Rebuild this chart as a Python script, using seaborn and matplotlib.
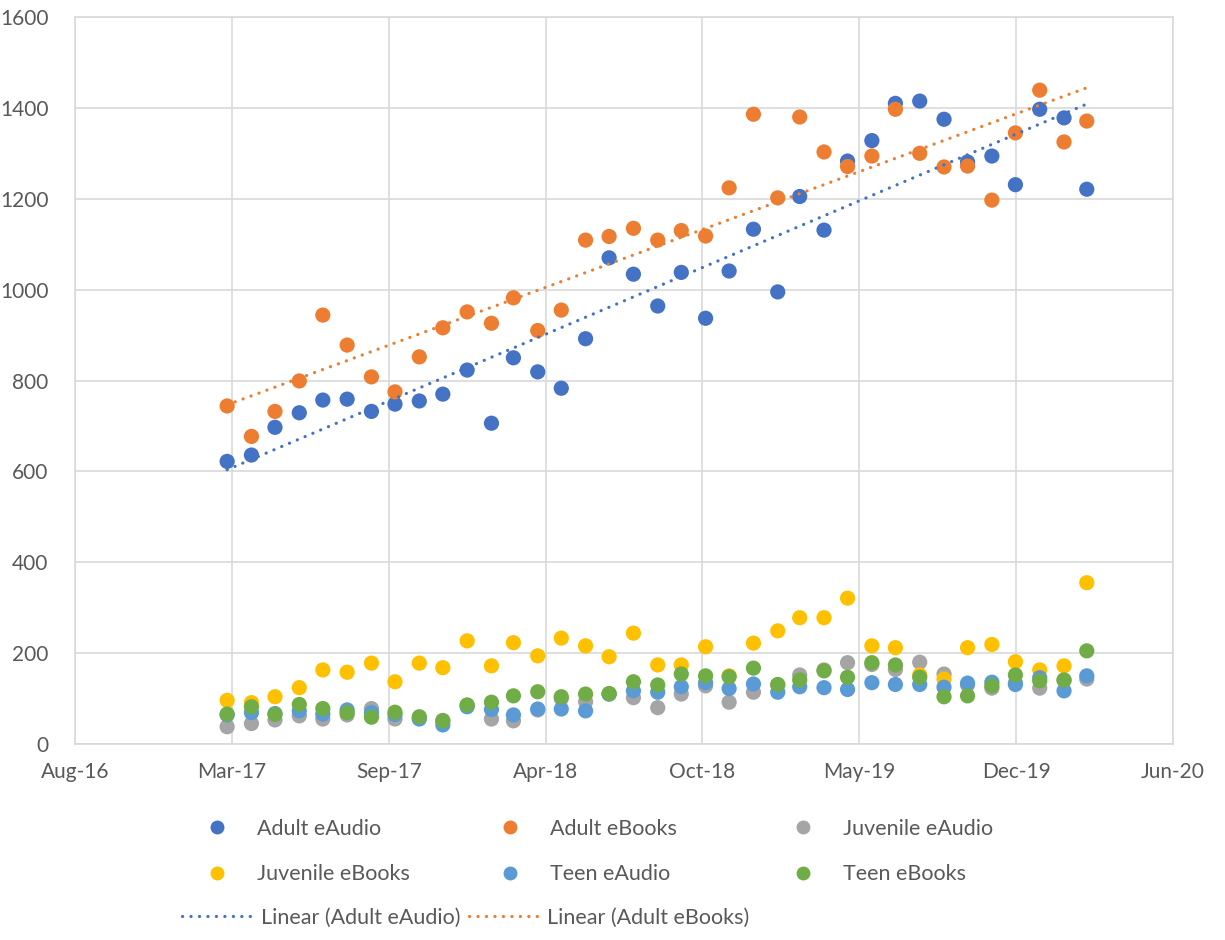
import pandas as pd
import numpy as np
import matplotlib.pyplot as plt
import matplotlib.dates as mdates
from matplotlib.lines import Line2D
import seaborn as sns

# monthly circulation, Mar-17 .. Mar-20
months = pd.date_range("2017-03-01", periods=37, freq="MS")

adult_eaudio = [622, 636, 697, 729, 757, 759, 732, 748, 755, 770, 823, 706, 850,
                819, 783, 892, 1070, 1034, 964, 1038, 937, 1041, 1133, 995, 1205,
                1131, 1283, 1328, 1410, 1415, 1375, 1281, 1294, 1231, 1397, 1378, 1221]
adult_ebooks = [744, 677, 732, 799, 944, 878, 808, 775, 852, 916, 951, 926, 982,
                910, 955, 1109, 1117, 1135, 1109, 1130, 1118, 1224, 1386, 1202, 1380,
                1303, 1271, 1294, 1397, 1300, 1270, 1272, 1197, 1345, 1439, 1325, 1371]
juvenile_eaudio = [38, 45, 53, 62, 55, 64, 78, 55, 58, 52, 85, 55, 51,
                   75, 100, 93, 110, 102, 80, 110, 128, 92, 114, 130, 152,
                   163, 179, 175, 164, 180, 154, 130, 123, 135, 123, 140, 143]
juvenile_ebooks = [96, 91, 104, 124, 163, 158, 178, 137, 178, 168, 227, 172, 223,
                   194, 233, 216, 192, 244, 174, 174, 214, 150, 222, 249, 278,
                   278, 321, 216, 212, 152, 143, 212, 219, 181, 163, 172, 355]
teen_eaudio = [64, 69, 67, 73, 66, 75, 69, 65, 55, 42, 82, 76, 64,
               77, 77, 73, 110, 117, 114, 126, 135, 122, 132, 114, 126,
               124, 120, 135, 131, 131, 125, 134, 136, 131, 146, 117, 150]
teen_ebooks = [66, 82, 65, 87, 78, 69, 59, 70, 60, 51, 86, 92, 106,
               115, 104, 110, 111, 137, 130, 154, 150, 148, 167, 131, 141,
               161, 147, 179, 174, 147, 104, 106, 128, 152, 139, 141, 205]

series_names = ["Adult eAudio", "Adult eBooks", "Juvenile eAudio",
                "Juvenile eBooks", "Teen eAudio", "Teen eBooks"]
colors = ["#4472C4", "#ED7D31", "#A5A5A5", "#FFC000", "#5B9BD5", "#70AD47"]
trend_series = ["Adult eAudio", "Adult eBooks"]

sns.set_theme(style="whitegrid")
plt.rcParams["font.family"] = ["Lato", "DejaVu Sans"]
text_col = "#595959"
grid_col = "#D9D9D9"
dot_style = (0, (0.05, 2.6))

df = pd.DataFrame({"month": months,
                   "Adult eAudio": adult_eaudio,
                   "Adult eBooks": adult_ebooks,
                   "Juvenile eAudio": juvenile_eaudio,
                   "Juvenile eBooks": juvenile_ebooks,
                   "Teen eAudio": teen_eaudio,
                   "Teen eBooks": teen_ebooks})
long_df = df.melt(id_vars="month", var_name="series", value_name="count")

fig = plt.figure(figsize=(12.25, 9.4), dpi=100)
ax = fig.add_axes([0.0612, 0.2085, 0.8964, 0.7734])
ax.set_facecolor("white")

sns.scatterplot(data=long_df, x="month", y="count", hue="series",
                hue_order=series_names, palette=colors, s=120, linewidth=0,
                alpha=1, legend=False, ax=ax, zorder=3)

# linear trendlines (least squares against date)
xnum = mdates.date2num(months)
for name in trend_series:
    coef = np.polyfit(xnum, df[name].values, 1)
    ax.plot(months, np.polyval(coef, xnum), linestyle=dot_style, lw=2.3,
            dash_capstyle="round", color=colors[series_names.index(name)], zorder=4)

# Excel-like date axis: major unit 200 days
tick_dates = pd.date_range("2016-08-19", periods=8, freq="200D")
ax.set_xticks(tick_dates)
ax.xaxis.set_major_formatter(mdates.DateFormatter("%b-%y"))
ax.set_xlim(tick_dates[0], tick_dates[-1])
ax.set_ylim(0, 1600)
ax.set_yticks(range(0, 1601, 200))
ax.set_xlabel("")
ax.set_ylabel("")
ax.grid(True, color=grid_col, lw=1.2)
for sp in ax.spines.values():
    sp.set_color(grid_col)
    sp.set_linewidth(1.2)
ax.tick_params(axis="both", length=0, colors=text_col, labelsize=15)
ax.tick_params(axis="x", pad=13)
ax.tick_params(axis="y", pad=19)

# legend: three columns of markers, then the trendline row
fs = 15.5
col_x = [0.1604, 0.3996, 0.6388]
for i, x0 in enumerate(col_x):
    hs = [Line2D([], [], marker="o", ls="", color=colors[j], markersize=9)
          for j in (i, i + 3)]
    fig.legend(hs, [series_names[i], series_names[i + 3]], loc="center left",
               bbox_to_anchor=(x0, 0.0941), frameon=False, fontsize=fs,
               labelcolor=text_col, handlelength=1.9, handletextpad=0.9,
               labelspacing=1.2, borderpad=0, borderaxespad=0)

line_handles = [Line2D([], [], ls=dot_style, lw=2.3, dash_capstyle="round",
                       color=colors[series_names.index(n)]) for n in trend_series]
fig.legend(line_handles, [f"Linear ({n})" for n in trend_series], loc="center left",
           bbox_to_anchor=(0.1486, 0.0234), ncol=2, frameon=False, fontsize=fs,
           labelcolor=text_col, handlelength=3.3, handletextpad=0.35,
           columnspacing=0.4, borderpad=0, borderaxespad=0)

fig.savefig("out.png", dpi=100)
